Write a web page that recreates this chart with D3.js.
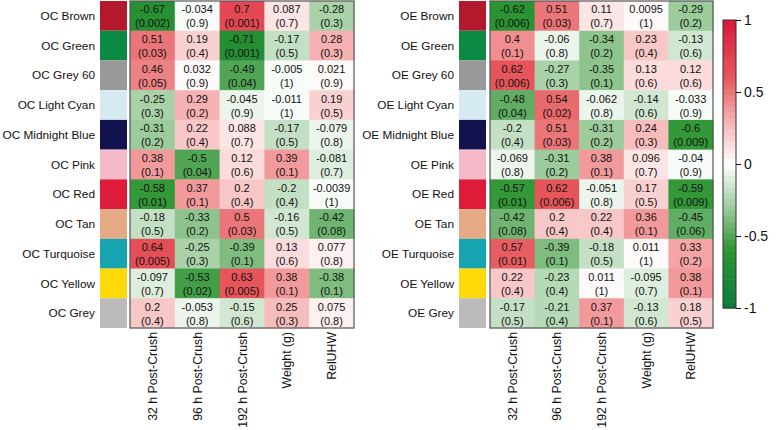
<!DOCTYPE html>
<html><head><meta charset="utf-8">
<script src="https://cdn.jsdelivr.net/npm/d3@7"></script>
<style>body{margin:0;background:#fff}svg{display:block}text{font-family:"Liberation Sans",Arial,sans-serif;fill:#111}</style>
</head><body><svg id="c" width="777" height="430"></svg>
<script>
const columns = ["32 h Post-Crush","96 h Post-Crush","192 h Post-Crush","Weight (g)","RelUHW"];
const modules = ["Brown","Green","Grey 60","Light Cyan","Midnight Blue","Pink","Red","Tan","Turquoise","Yellow","Grey"];
const moduleColors = ["#b3182c","#0b8a44","#9a9898","#d5eaf1","#12124e","#f6b9c7","#df1b3a","#e6ab86","#16a4b0","#fcd907","#bdbaba"];
const ocR = [
 [-0.67,-0.034,0.7,0.087,-0.28],
 [0.51,0.19,-0.71,-0.17,0.28],
 [0.46,0.032,-0.49,-0.005,0.021],
 [-0.25,0.29,-0.045,-0.011,0.19],
 [-0.31,0.22,0.088,-0.17,-0.079],
 [0.38,-0.5,0.12,0.39,-0.081],
 [-0.58,0.37,0.2,-0.2,-0.0039],
 [-0.18,-0.33,0.5,-0.16,-0.42],
 [0.64,-0.25,-0.39,0.13,0.077],
 [-0.097,-0.53,0.63,0.38,-0.38],
 [0.2,-0.053,-0.15,0.25,0.075]];
const ocP = [
 [0.002,0.9,0.001,0.7,0.3],
 [0.03,0.4,0.001,0.5,0.3],
 [0.05,0.9,0.04,1,0.9],
 [0.3,0.2,0.9,1,0.5],
 [0.2,0.4,0.7,0.5,0.8],
 [0.1,0.04,0.6,0.1,0.7],
 [0.01,0.1,0.4,0.4,1],
 [0.5,0.2,0.03,0.5,0.08],
 [0.005,0.3,0.1,0.6,0.8],
 [0.7,0.02,0.005,0.1,0.1],
 [0.4,0.8,0.6,0.3,0.8]];
const oeR = [
 [-0.62,0.51,0.11,0.0095,-0.29],
 [0.4,-0.06,-0.34,0.23,-0.13],
 [0.62,-0.27,-0.35,0.13,0.12],
 [-0.48,0.54,-0.062,-0.14,-0.033],
 [-0.2,0.51,-0.31,0.24,-0.6],
 [-0.069,-0.31,0.38,0.096,-0.04],
 [-0.57,0.62,-0.051,0.17,-0.59],
 [-0.42,0.2,0.22,0.36,-0.45],
 [0.57,-0.39,-0.18,0.011,0.33],
 [0.22,-0.23,0.011,-0.095,0.38],
 [-0.17,-0.21,0.37,-0.13,0.18]];
const oeP = [
 [0.006,0.03,0.7,1,0.2],
 [0.1,0.8,0.2,0.4,0.6],
 [0.006,0.3,0.1,0.6,0.6],
 [0.04,0.02,0.8,0.6,0.9],
 [0.4,0.03,0.2,0.3,0.009],
 [0.8,0.2,0.1,0.7,0.9],
 [0.01,0.006,0.8,0.5,0.009],
 [0.08,0.4,0.4,0.1,0.06],
 [0.01,0.1,0.5,1,0.2],
 [0.4,0.4,1,0.7,0.1],
 [0.5,0.4,0.1,0.6,0.5]];
const legendTicks = [1,0.5,0,-0.5,-1];

const svg = d3.select("#c");
const color = d3.scaleLinear()
  .domain([-1,-0.6,-0.3,0,0.3,0.6,1])
  .range(["#0a7b3e","#2c9431","#9ccb9c","#ffffff","#f6b2b2","#e6585c","#d9173a"])
  .interpolate(d3.interpolateRgb);
const nBins = 50;
const binColor = v => { const b = Math.min(nBins-1, Math.floor((v+1)/2*nBins)); return color(-1 + (b+0.5)*2/nBins); };

const yTop = 1, yBottom = 328;
const y = d3.scaleBand().domain(modules).range([yTop,yBottom]).padding(0);

function panel(prefix, R, P, swX, x0, x1) {
  const g = svg.append("g");
  const x = d3.scaleBand().domain(columns).range([x0,x1]).padding(0);
  g.selectAll("rect.sw").data(modules).join("rect")
    .attr("x", swX).attr("y", d=>y(d)).attr("width", 27).attr("height", y.bandwidth())
    .attr("fill", (d,i)=>moduleColors[i]);
  g.selectAll("text.rl").data(modules).join("text")
    .attr("x", swX-5).attr("y", d=>y(d)+y.bandwidth()/2).attr("dy","0.35em")
    .attr("text-anchor","end").attr("font-size","11.8px").text(d=>prefix+" "+d);
  const cells = [];
  modules.forEach((m,i)=>columns.forEach((c,j)=>cells.push({m,c,r:R[i][j],p:P[i][j]})));
  g.selectAll("rect.cell").data(cells).join("rect")
    .attr("x", d=>x(d.c)).attr("y", d=>y(d.m))
    .attr("width", x.bandwidth()+0.5).attr("height", y.bandwidth()+0.5)
    .attr("fill", d=>binColor(d.r));
  const t = g.selectAll("text.cell").data(cells).join("text")
    .attr("text-anchor","middle").attr("font-size","11px");
  t.append("tspan").attr("x", d=>x(d.c)+x.bandwidth()/2).attr("y", d=>y(d.m)+y.bandwidth()/2-2.5).text(d=>String(d.r));
  t.append("tspan").attr("x", d=>x(d.c)+x.bandwidth()/2).attr("y", d=>y(d.m)+y.bandwidth()/2+11.5).text(d=>"("+String(d.p)+")");
  g.append("rect").attr("x",x0).attr("y",yTop).attr("width",x1-x0).attr("height",yBottom-yTop)
    .attr("fill","none").attr("stroke","#555").attr("stroke-width",1.2);
  g.selectAll("text.cl").data(columns).join("text")
    .attr("transform", d=>`translate(${x(d)+x.bandwidth()/2+4.5},${yBottom+4}) rotate(-90)`)
    .attr("text-anchor","end").attr("font-size","12.3px").text(d=>d);
}
panel("OC", ocR, ocP, 100, 130, 354);
panel("OE", oeR, oeP, 459, 490, 713);

const ly = d3.scaleLinear().domain([-1,1]).range([308,20]);
const lg = svg.append("g");
const steps = d3.range(nBins);
lg.selectAll("rect").data(steps).join("rect")
  .attr("x",723).attr("width",13)
  .attr("y", b=>ly(-1+(b+1)*2/nBins)).attr("height", b=>ly(-1+b*2/nBins)-ly(-1+(b+1)*2/nBins)+0.5)
  .attr("fill", b=>color(-1+(b+0.5)*2/nBins));
lg.append("rect").attr("x",723).attr("y",20).attr("width",13).attr("height",288)
  .attr("fill","none").attr("stroke","#333").attr("stroke-width",1);
const ax = d3.axisRight(ly).tickValues(legendTicks).tickSize(5).tickFormat(d=>String(d));
const axg = lg.append("g").attr("transform","translate(736,0)").call(ax);
axg.select(".domain").remove();
axg.selectAll("line").attr("stroke","#111");
axg.selectAll("text").attr("font-size","14px").attr("font-family","Liberation Sans, Arial, sans-serif").attr("fill","#111").attr("x",8);
</script></body></html>
